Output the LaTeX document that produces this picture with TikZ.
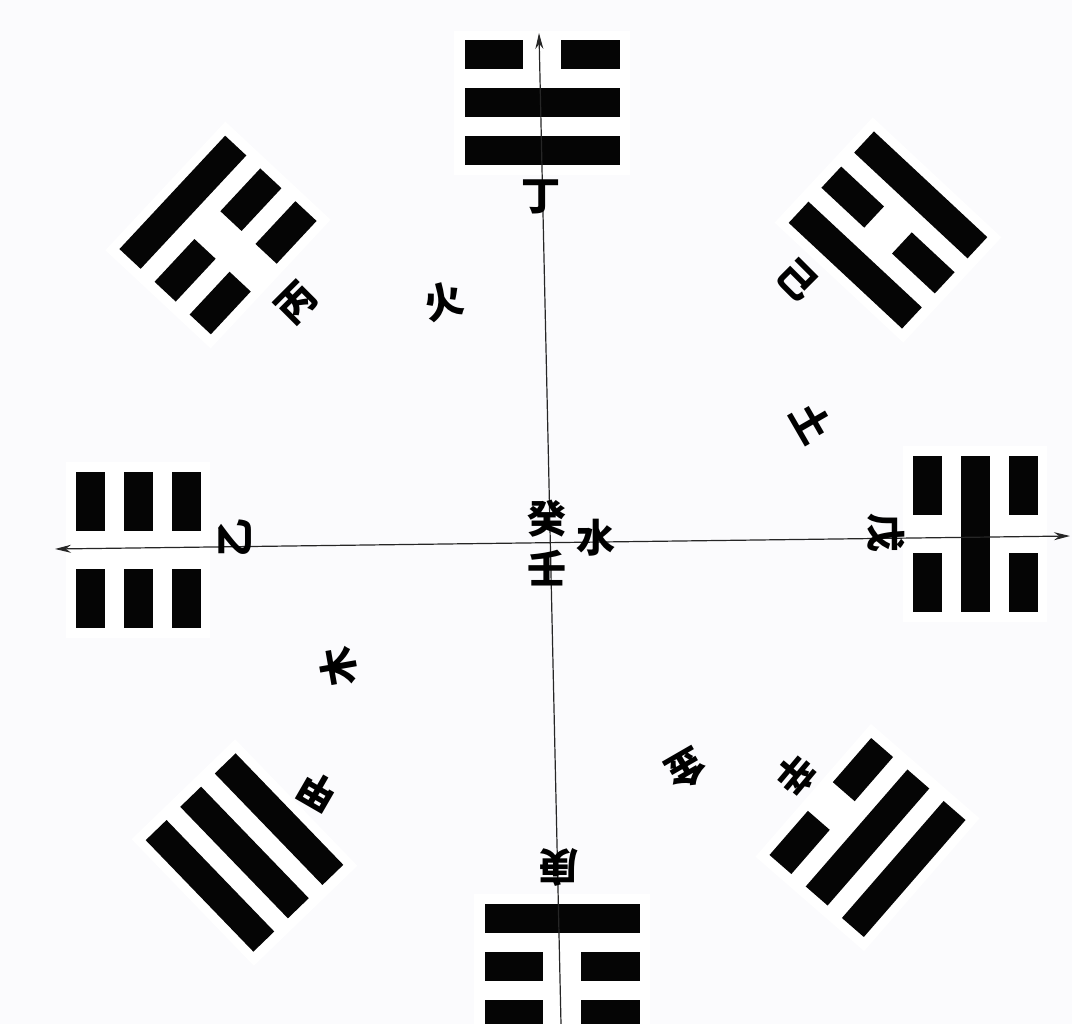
\documentclass[tikz,border=0pt]{standalone}
\usepackage{fontspec}
\newfontfamily\cjk{Noto Sans CJK SC}
\usetikzlibrary{arrows.meta}
\definecolor{pagebg}{RGB}{251,251,253}
\definecolor{barcol}{RGB}{5,5,5}
\tikzset{
  bar/.style={fill=barcol},
  lab/.style={font=\cjk\bfseries\fontsize{39}{39}\selectfont, inner sep=0pt, text=black},
  axisline/.style={line width=1.2pt, draw=black!85, >={Stealth[length=16pt,width=8pt]}}
}
\newcommand\triline[2]{%
  \ifnum#2=1
    \fill[bar] (-77.5,#1-14.5) rectangle (77.5,#1+14.5);
  \else
    \fill[bar] (-77.5,#1-14.5) rectangle (-19,#1+14.5);
    \fill[bar] (19,#1-14.5) rectangle (77.5,#1+14.5);
  \fi}
\newcommand\trigram[6]{%
  \begin{scope}[shift={(#1,-#2)},rotate=#3]
    \fill[white] (-88,-72) rectangle (88,72);
    \triline{48}{#4}\triline{0}{#5}\triline{-48}{#6}
  \end{scope}}
\begin{document}
\begin{tikzpicture}[x=1pt,y=1pt]
\fill[pagebg] (0,0) rectangle (1072,-1024);
\useasboundingbox (0,0) rectangle (1072,-1024);
\begin{scope}
\clip (0,0) rectangle (1072,-1024);
% trigrams: X, Y, angle, outer, middle, inner (1 = solid, 0 = broken)
\trigram{542}{103}{0}{0}{1}{1}
\trigram{562}{966}{180}{0}{0}{1}
\trigram{138}{550}{90}{0}{0}{0}
\trigram{975}{534}{-90}{0}{1}{0}
\trigram{218}{235}{47}{1}{0}{0}
\trigram{888}{230}{-43}{1}{0}{1}
\trigram{244.5}{852.5}{134}{1}{1}{1}
\trigram{867.5}{837.5}{-131}{1}{1}{0}
% axes
\coordinate (ntip) at (539,-33);
\coordinate (send) at (561,-1024);
\coordinate (wtip) at (55,-549);
\coordinate (etip) at (1070,-536);
\draw[axisline, ->] (send) -- (ntip);
\draw[axisline, <->] (wtip) -- (etip);
\end{scope}
% labels
\node[lab] (ding) at (541,-197) {丁};
\node[lab, rotate=180] (geng) at (559,-867) {庚};
\node[lab, rotate=90] (yi) at (235,-538) {乙};
\node[lab, rotate=-90] (wu) at (886,-533) {戊};
\node[lab, rotate=45] (bing) at (297,-303) {丙};
\node[lab, rotate=15] (huo) at (444,-301) {火};
\node[lab, rotate=-45] (ji) at (797,-279) {己};
\node[lab, rotate=-60] (tu) at (812,-423) {土};
\node[lab] (gui) at (547,-519) {癸};
\node[lab] (ren) at (547,-568) {壬};
\node[lab] (shui) at (596,-538) {水};
\node[lab, rotate=100] (mu) at (339,-667) {木};
\node[lab, rotate=150] (jia) at (318,-792) {甲};
\node[lab, rotate=-130] (xin) at (796,-775) {辛};
\node[lab, rotate=-150] (jin) at (686,-770) {金};
\end{tikzpicture}
\end{document}
